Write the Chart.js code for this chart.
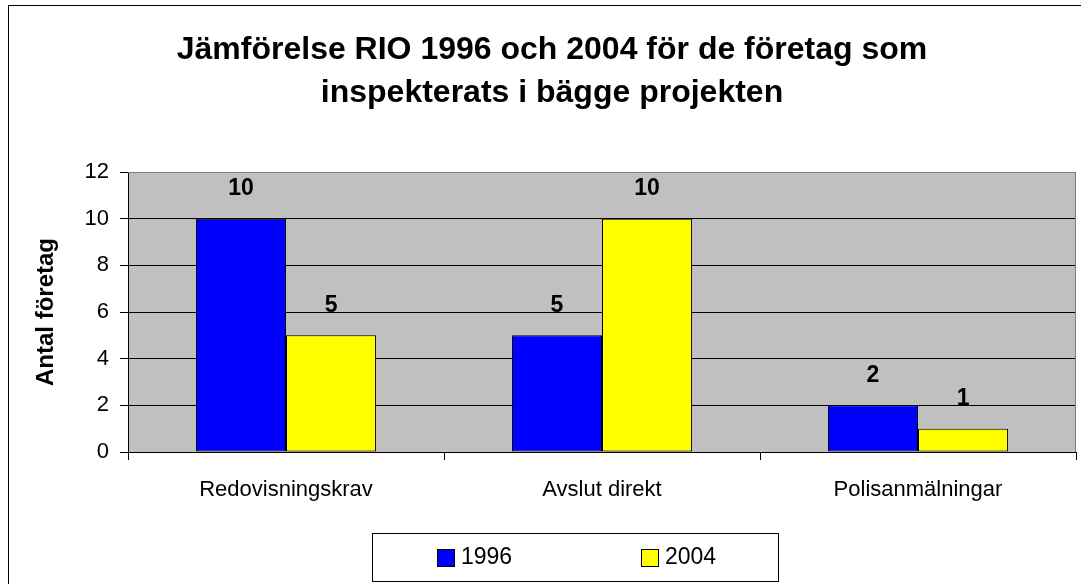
<!DOCTYPE html>
<html>
<head>
<meta charset="utf-8">
<script src="https://cdn.jsdelivr.net/npm/chart.js@4.4.1/dist/chart.umd.min.js"></script>
<style>
  body { margin: 0; background: #fff; }
  #wrap { width: 1081px; height: 584px; }
</style>
</head>
<body>
<div id="wrap"><canvas id="rioChart" width="1081" height="584"></canvas></div>
<script>
const categories = ['Redovisningskrav', 'Avslut direkt', 'Polisanmälningar'];
const values1996 = [10, 5, 2];
const values2004 = [5, 10, 1];
const seriesNames = ['1996', '2004'];
const titleLines = ['Jämförelse RIO 1996 och 2004 för de företag som', 'inspekterats i bägge projekten'];
const yAxisTitle = 'Antal företag';
const yMin = 0, yMax = 12, yStep = 2;

const FONT = '"Liberation Sans", Arial, sans-serif';

// background, frame, title, plot area, value labels and legend
const decorPlugin = {
    id: 'decor',
    beforeDraw(chart) {
        const c = chart.ctx;
        const a = chart.chartArea;
        c.save();
        c.fillStyle = '#fff';
        c.fillRect(0, 0, chart.width, chart.height);
        c.strokeStyle = '#000';
        c.lineWidth = 1;
        c.strokeRect(8.5, 5.5, 1200, 700);
        c.fillStyle = '#C0C0C0';
        c.fillRect(a.left, a.top, a.right - a.left, a.bottom - a.top);
        // title
        c.fillStyle = '#000';
        c.font = 'bold 32px ' + FONT;
        c.textAlign = 'center';
        c.textBaseline = 'middle';
        c.fillText(titleLines[0], 552, 50);
        c.fillText(titleLines[1], 552, 93);
        c.restore();
    },
    beforeDatasetsDraw(chart) {
        const c = chart.ctx;
        const a = chart.chartArea;
        c.save();
        c.strokeStyle = '#808080';
        c.lineWidth = 1;
        c.beginPath();
        c.moveTo(a.left, a.top + 0.5);
        c.lineTo(a.right - 0.5, a.top + 0.5);
        c.lineTo(a.right - 0.5, a.bottom);
        c.stroke();
        c.restore();
    },
    afterDatasetsDraw(chart) {
        const c = chart.ctx;
        c.save();
        c.fillStyle = '#000';
        c.font = 'bold 23px ' + FONT;
        c.textAlign = 'center';
        c.textBaseline = 'middle';
        chart.data.datasets.forEach((ds, i) => {
            chart.getDatasetMeta(i).data.forEach((bar, j) => {
                c.fillText(String(ds.data[j]), bar.x, bar.y - 30);
            });
        });
        c.restore();
    },
    afterDraw(chart) {
        const c = chart.ctx;
        c.save();
        c.strokeStyle = '#000';
        c.lineWidth = 1;
        c.strokeRect(372.5, 533.5, 406, 48);
        const items = [437, 641];
        c.font = '23px ' + FONT;
        c.textBaseline = 'middle';
        chart.data.datasets.forEach((ds, i) => {
            const x = items[i];
            c.fillStyle = ds.backgroundColor;
            c.fillRect(x + 0.5, 549.5, 17, 17);
            c.strokeRect(x + 0.5, 549.5, 17, 17);
            c.fillStyle = '#000';
            c.fillText(ds.label, x + 24, 558);
        });
        c.restore();
    }
};

const ctx = document.getElementById('rioChart').getContext('2d');
const rioChart = new Chart(ctx, {
    type: 'bar',
    data: {
        labels: categories,
        datasets: [
            { label: seriesNames[0], data: values1996, backgroundColor: '#0000FF', borderColor: '#000', borderWidth: 1, borderSkipped: false },
            { label: seriesNames[1], data: values2004, backgroundColor: '#FFFF00', borderColor: '#000', borderWidth: 1, borderSkipped: false }
        ]
    },
    options: {
        responsive: false,
        animation: false,
        layout: { padding: { left: 0, right: 5, top: 172, bottom: 72 } },
        datasets: { bar: { categoryPercentage: 0.57, barPercentage: 1.0 } },
        plugins: {
            legend: { display: false },
            title: { display: false },
            tooltip: { enabled: false }
        },
        scales: {
            x: {
                grid: { offset: true, drawOnChartArea: false, color: '#000', tickLength: 8 },
                border: { color: '#000' },
                ticks: { color: '#000', font: { family: FONT, size: 22 }, padding: 17 },
                afterFit(scale) { scale.height = 60; }
            },
            y: {
                min: yMin,
                max: yMax,
                ticks: { stepSize: yStep, color: '#000', font: { family: FONT, size: 22 }, padding: 11 },
                grid: { color: '#000', tickLength: 8 },
                border: { color: '#000' },
                title: {
                    display: true,
                    text: yAxisTitle,
                    color: '#000',
                    font: { family: FONT, size: 24, weight: 'bold' },
                    padding: { top: 32, bottom: 0 }
                },
                afterFit(scale) { scale.width = 128; }
            }
        }
    },
    plugins: [decorPlugin]
});
</script>
</body>
</html>
